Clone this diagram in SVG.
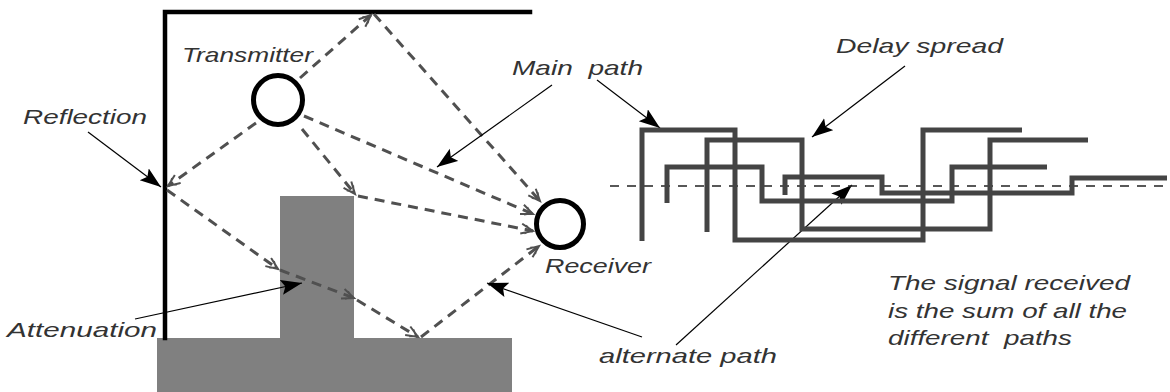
<svg xmlns="http://www.w3.org/2000/svg" width="1170" height="392" viewBox="0 0 1170 392">
<defs>
<style>
.lbl{font-family:"Liberation Sans",Arial,sans-serif;font-style:italic;font-size:21px;fill:#333;white-space:pre;}
.wall{stroke:#000;stroke-width:4.5;fill:none;stroke-linecap:square;}
.blk{fill:#808080;}
.ant{fill:#fff;stroke:#000;stroke-width:5;}
.ray{stroke:#505050;stroke-width:3;stroke-dasharray:10 7;fill:none;marker-end:url(#ray-head);}
.ptr{stroke:#000;stroke-width:1.2;fill:none;marker-end:url(#ptr-head);}
.sig{stroke:#444;stroke-width:5;fill:none;stroke-linejoin:miter;stroke-linecap:butt;}
.base{stroke:#222;stroke-width:1.5;stroke-dasharray:9 8;fill:none;}
</style>
<marker id="ray-head" markerUnits="userSpaceOnUse" markerWidth="16" markerHeight="14" refX="13" refY="6" orient="auto">
<path d="M1,1 L13,6 L1,11 M5,2 L11,6 L5,10" stroke="#505050" stroke-width="2" fill="none"/>
</marker>
<marker id="ptr-head" markerUnits="userSpaceOnUse" markerWidth="24" markerHeight="18" refX="21" refY="7.5" orient="auto">
<path d="M0,0 L21,7.5 L0,15 L4,7.5 z" fill="#000"/>
</marker>
</defs>

<g id="room">
<rect class="blk" x="157" y="338" width="355" height="54"/>
<rect class="blk" x="280" y="196" width="74" height="142"/>
<path class="wall" d="M165,338 L165,12 L530,12"/>
</g>

<g id="transmitter">
<circle class="ant" cx="278" cy="100" r="24.5"/>
<text class="lbl" x="182" y="62" textLength="131" lengthAdjust="spacingAndGlyphs">Transmitter</text>
</g>

<g id="receiver">
<circle class="ant" cx="560" cy="224" r="23.5"/>
<text class="lbl" x="545" y="273" textLength="106" lengthAdjust="spacingAndGlyphs">Receiver</text>
</g>

<g id="connectors">
<line class="ray" x1="300" y1="78" x2="371" y2="15"/>
<line class="ray" x1="374" y1="14" x2="540" y2="201"/>
<line class="ray" x1="256" y1="123" x2="168" y2="186"/>
<line class="ray" x1="167" y1="190" x2="278" y2="269"/>
<line class="ray" x1="280" y1="270" x2="354" y2="298"/>
<line class="ray" x1="357" y1="300" x2="418" y2="337"/>
<line class="ray" x1="421" y1="337" x2="539" y2="246"/>
<line class="ray" x1="302" y1="129" x2="355" y2="194"/>
<line class="ray" x1="358" y1="196" x2="533" y2="231"/>
<line class="ray" x1="304" y1="116" x2="533" y2="214"/>
<line class="ptr" x1="88" y1="132" x2="161" y2="187"/>
<line class="ptr" x1="552" y1="85" x2="437" y2="167"/>
<line class="ptr" x1="597" y1="80" x2="660" y2="128"/>
<line class="ptr" x1="905" y1="66" x2="812" y2="137"/>
<line class="ptr" x1="135" y1="319" x2="302" y2="283"/>
<line class="ptr" x1="642" y1="337" x2="487" y2="283"/>
<line class="ptr" x1="676" y1="345" x2="852" y2="185"/>
</g>

<g id="delay-plot">
<line class="base" x1="610" y1="186" x2="1168" y2="186"/>
<path class="sig" d="M642,241 V130 H735 V240 H923 V130 H1022"/>
<path class="sig" d="M707,232 V140 H802 V229 H990 V140 H1088"/>
<path class="sig" d="M667,203 V167 H762 V201 H952 V167 H1047"/>
<path class="sig" d="M785,195 V177 H882 V193 H1072 V178 H1167"/>
</g>

<g id="labels">
<text class="lbl" x="23" y="124" textLength="124" lengthAdjust="spacingAndGlyphs">Reflection</text>
<text class="lbl" x="7" y="337" textLength="150" lengthAdjust="spacingAndGlyphs">Attenuation</text>
<text class="lbl" x="512" y="75" textLength="131" lengthAdjust="spacingAndGlyphs" xml:space="preserve">Main  path</text>
<text class="lbl" x="836" y="53" textLength="167" lengthAdjust="spacingAndGlyphs">Delay spread</text>
<text class="lbl" x="599" y="363" textLength="178" lengthAdjust="spacingAndGlyphs">alternate path</text>
<text class="lbl" x="888" y="290" textLength="242" lengthAdjust="spacingAndGlyphs">The signal received</text>
<text class="lbl" x="888" y="318" textLength="239" lengthAdjust="spacingAndGlyphs">is the sum of all the</text>
<text class="lbl" x="888" y="345" textLength="184" lengthAdjust="spacingAndGlyphs" xml:space="preserve">different  paths</text>
</g>
</svg>
